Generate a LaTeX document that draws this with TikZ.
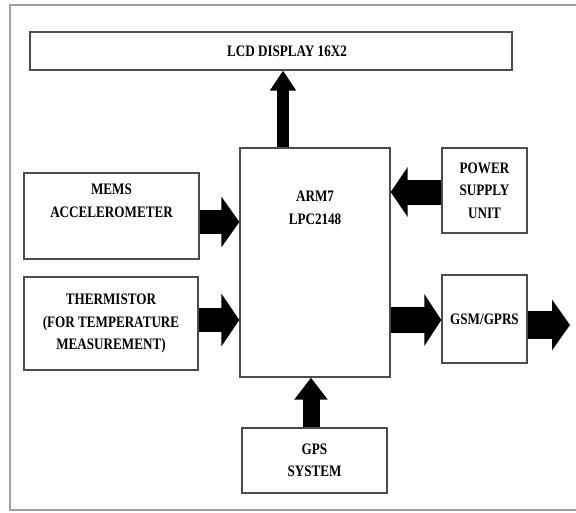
\documentclass[tikz,border=0pt]{standalone}
\usepackage{fontspec}
\setmainfont{Liberation Serif}[FakeStretch=0.82]
\usetikzlibrary{arrows.meta}

\begin{document}
\begin{tikzpicture}[x=1pt,y=-1pt,
    block/.style={draw=black!70,line width=1.3pt,align=center,
      font=\bfseries\fontsize{16}{22.5}\selectfont},
    lbl/.style={align=center,font=\bfseries\fontsize{16}{22.5}\selectfont},
    blockarrow/.style n args={3}{line width=#1,-{Triangle[width=#2,length=#3]}}]
    \useasboundingbox (0,0) rectangle (576,512);
    \draw[gray!75,line width=1.5pt] (576,5) -- (10,5) -- (10,510) -- (576,510);

    \node[block,minimum width=482pt,minimum height=38pt] (lcd) at (271,51) {};
    \node[lbl] (lcdtext) at (287,51) {LCD DISPLAY 16X2};
    \node[block,minimum width=150pt,minimum height=229pt] (arm) at (315,262.5) {};
    \node[lbl] (armtext) at (315,208) {ARM7\\LPC2148};
    \node[block,minimum width=175pt,minimum height=86pt] (mems) at (111.5,216) {};
    \node[lbl] (memstext) at (111.5,201) {MEMS\\ACCELEROMETER};
    \node[block,minimum width=174pt,minimum height=93pt] (therm) at (111,323.5)
      {THERMISTOR\\(FOR TEMPERATURE\\MEASUREMENT)};
    \node[block,minimum width=85pt,minimum height=85pt] (power) at (484.5,190.5)
      {POWER\\SUPPLY\\UNIT};
    \node[block,minimum width=85pt,minimum height=88pt] (gsm) at (484.5,319) {GSM/GPRS};
    \node[block,minimum width=145pt,minimum height=65pt] (gps) at (314.5,460.5)
      {GPS\\SYSTEM};
    \coordinate (out) at (570,325);

    % block arrows
    \draw[blockarrow={12pt}{25pt}{20pt}] ([xshift=-32pt]arm.north)
      -- ([xshift=-32pt]arm.north |- lcd.south);
    \draw[blockarrow={24pt}{50pt}{18pt}] ([yshift=-6pt]mems.east)
      -- ([yshift=-6pt]mems.east -| arm.west);
    \draw[blockarrow={24pt}{52pt}{18pt}] ([yshift=3.5pt]therm.east)
      -- ([yshift=3.5pt]therm.east -| arm.west);
    \draw[blockarrow={25pt}{49pt}{17pt}] ([yshift=-1.5pt]power.west)
      -- ([yshift=-1.5pt]power.west -| arm.east);
    \draw[blockarrow={26pt}{51pt}{17pt}] ([yshift=-1pt]gsm.west -| arm.east)
      -- ([yshift=-1pt]gsm.west);
    \draw[blockarrow={28pt}{50pt}{18pt}] (gsm.east |- out) -- (out);
    \draw[blockarrow={17pt}{32pt}{22pt}] ([xshift=-3.5pt]gps.north)
      -- ([xshift=-3.5pt]gps.north |- arm.south);
\end{tikzpicture}
\end{document}
